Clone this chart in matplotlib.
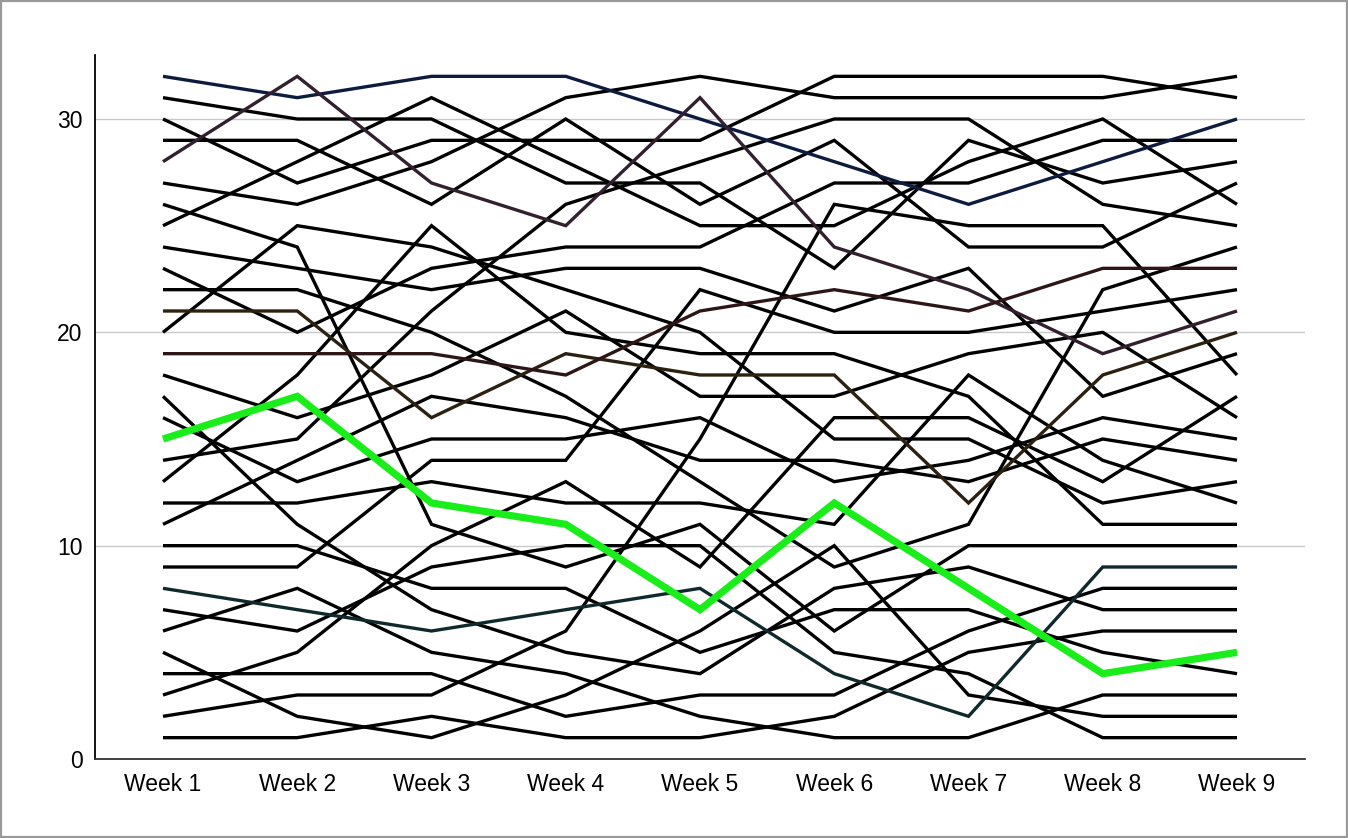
import matplotlib
matplotlib.use("Agg")
import matplotlib.pyplot as plt
from matplotlib.patches import Rectangle

weeks = ["Week 1", "Week 2", "Week 3", "Week 4", "Week 5", "Week 6", "Week 7", "Week 8", "Week 9"]

team_01 = [32, 31, 32, 32, 30, 28, 26, 28, 30]   # navy
team_02 = [31, 30, 30, 27, 27, 23, 29, 27, 28]
team_03 = [30, 27, 29, 29, 29, 32, 32, 32, 31]
team_04 = [29, 29, 26, 30, 26, 29, 24, 24, 27]
team_05 = [28, 32, 27, 25, 31, 24, 22, 19, 21]   # purple
team_06 = [27, 26, 28, 31, 32, 31, 31, 31, 32]
team_07 = [26, 24, 11, 9, 11, 6, 10, 10, 10]
team_08 = [25, 28, 31, 28, 25, 25, 28, 30, 26]
team_09 = [24, 23, 22, 23, 23, 21, 23, 17, 19]
team_10 = [23, 20, 23, 24, 24, 27, 27, 29, 29]
team_11 = [22, 22, 20, 17, 13, 9, 11, 22, 24]
team_12 = [21, 21, 16, 19, 18, 18, 12, 18, 20]   # olive brown
team_13 = [20, 25, 24, 22, 20, 15, 15, 12, 13]
team_14 = [19, 19, 19, 18, 21, 22, 21, 23, 23]   # dark red
team_15 = [18, 16, 18, 21, 17, 17, 19, 20, 16]
team_16 = [17, 11, 7, 5, 4, 8, 9, 7, 7]
team_17 = [16, 13, 15, 15, 16, 13, 14, 16, 15]
team_18 = [15, 17, 12, 11, 7, 12, 8, 4, 5]      # highlighted green
team_19 = [14, 15, 21, 26, 28, 30, 30, 26, 25]
team_20 = [13, 18, 25, 20, 19, 19, 17, 11, 11]
team_21 = [12, 12, 13, 12, 12, 11, 18, 14, 12]
team_22 = [11, 14, 17, 16, 14, 14, 13, 15, 14]
team_23 = [10, 10, 8, 8, 5, 7, 7, 5, 4]
team_24 = [9, 9, 14, 14, 22, 20, 20, 21, 22]
team_25 = [8, 7, 6, 7, 8, 4, 2, 9, 9]           # teal
team_26 = [7, 6, 9, 10, 10, 5, 4, 1, 1]
team_27 = [6, 8, 5, 4, 2, 1, 1, 3, 3]
team_28 = [5, 2, 1, 3, 6, 10, 3, 2, 2]
team_29 = [4, 4, 4, 2, 3, 3, 6, 8, 8]
team_30 = [3, 5, 10, 13, 9, 16, 16, 13, 17]
team_31 = [2, 3, 3, 6, 15, 26, 25, 25, 18]
team_32 = [1, 1, 2, 1, 1, 2, 5, 6, 6]

series = [team_01, team_02, team_03, team_04, team_05, team_06, team_07, team_08,
          team_09, team_10, team_11, team_12, team_13, team_14, team_15, team_16,
          team_17, team_18, team_19, team_20, team_21, team_22, team_23, team_24,
          team_25, team_26, team_27, team_28, team_29, team_30, team_31, team_32]

special_colors = {0: "#0c1b3e", 4: "#33202f", 11: "#2c2110", 13: "#2e1616", 24: "#10292c"}
highlight = 17
yticks = [0, 10, 20, 30]

fig = plt.figure(figsize=(13.48, 8.38), dpi=100)
ax = fig.add_axes([95 / 1348, 1 - 759 / 838, (1305 - 95) / 1348, (759 - 55) / 838])

x = list(range(len(weeks)))
for i, s in enumerate(series):
    if i == highlight:
        continue
    c = special_colors.get(i, "#000000")
    ax.plot(x, s, color=c, lw=2.4, solid_joinstyle="miter", solid_capstyle="butt",
            zorder=3 if i in special_colors else 2)
ax.plot(x, series[highlight], color="#1aee1a", lw=5.2, solid_joinstyle="miter",
        solid_capstyle="butt", zorder=5)

ax.set_xlim(-0.5065, 8.5065)
ax.set_ylim(0, 33)
ax.set_xticks(x)
ax.set_xticklabels(weeks)
ax.set_yticks(yticks)
for yv in yticks[1:]:
    ax.axhline(yv, color="#c8c8c8", lw=1.0, zorder=1)

for side in ["top", "right"]:
    ax.spines[side].set_visible(False)
ax.spines["left"].set_color("#000000")
ax.spines["left"].set_linewidth(1.3)
ax.spines["bottom"].set_color("#333333")
ax.spines["bottom"].set_linewidth(1.3)
ax.tick_params(axis="both", length=0, labelsize=16.5, colors="#000000")
ax.tick_params(axis="y", pad=9)
ax.tick_params(axis="x", pad=10)
for lab in ax.get_xticklabels() + ax.get_yticklabels():
    lab.set_fontfamily("Liberation Sans")

fig.patches.append(Rectangle((0.0007, 0.0012), 0.9986, 0.9976, transform=fig.transFigure,
                             fill=False, edgecolor="#9a9a9a", lw=1.6))

fig.savefig("out.png", dpi=100)
